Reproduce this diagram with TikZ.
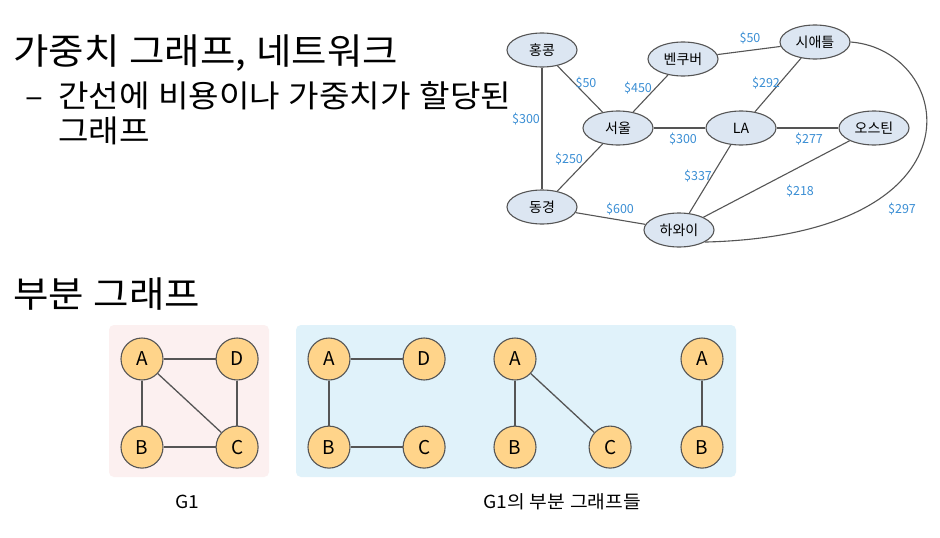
\documentclass[tikz,border=0pt]{standalone}
\usepackage{fontspec}
\setmainfont{Noto Sans CJK KR}[WordSpace=1.15]
\newfontfamily\widefont{Noto Sans CJK KR}[FakeStretch=1.07,WordSpace=1.15]
\usepackage{tikz}
\usetikzlibrary{positioning}
\usetikzlibrary{shapes.geometric}
\definecolor{costblue}{HTML}{3A8ED4}
\definecolor{cityfill}{HTML}{DCE6F2}
\definecolor{edgegray}{HTML}{555555}
\definecolor{vertfill}{HTML}{FFD48A}
\definecolor{pinkbg}{HTML}{FCF0F0}
\definecolor{bluebg}{HTML}{E0F2FA}
\tikzstyle{city} = [ellipse,draw=edgegray,line width=1.1pt,fill=cityfill,minimum width=70pt,minimum height=34pt,inner sep=0pt,font=\fontsize{14}{16}\selectfont]
\tikzstyle{cost} = [text=costblue,inner sep=0pt,font=\fontsize{12.5}{14}\selectfont]
\tikzstyle{road} = [draw=edgegray,line width=1.1pt]
\tikzstyle{vert} = [circle,draw=edgegray,line width=1.1pt,fill=vertfill,minimum size=42pt,inner sep=0pt,font=\fontsize{19}{22}\selectfont]
\tikzstyle{link} = [draw=edgegray,line width=1.3pt]
\tikzstyle{heading} = [anchor=base west,inner sep=0pt,font=\widefont\fontsize{36}{42}\selectfont]
\tikzstyle{bullet} = [anchor=base west,inner sep=0pt,font=\widefont\fontsize{31}{36}\selectfont]
\tikzstyle{caption} = [inner sep=0pt,font=\widefont\fontsize{18}{21}\selectfont]

\begin{document}
\begin{tikzpicture}[x=1pt,y=-1pt]
				\useasboundingbox (0,0) rectangle (940,538);
				\fill[white] (0,0) rectangle (940,538);
				
				%Text
				\node[heading] (t1) at (13,64) {가중치 그래프, 네트워크};
				\node[bullet] (dash) at (25,107) {–};
				\node[bullet] (t2) at (58,107) {간선에 비용이나 가중치가 할당된};
				\node[bullet] (t3) at (58,142) {그래프};
				\node[heading] (t4) at (13,307) {부분 그래프};
				
				%Cities
				\node[city] (hk) at (542,50) {홍콩};
				\node[city] (van) at (683,59) {벤쿠버};
				\node[city] (sea) at (815,42) {시애틀};
				\node[city] (seoul) at (618,128) {서울};
				\node[city] (la) at (741,128) {LA};
				\node[city] (aus) at (874,128) {오스틴};
				\node[city] (tok) at (542,207) {동경};
				\node[city] (haw) at (679,230) {하와이};
				
				%Roads
				\draw[road] (hk) -- (seoul);
				\draw[road] (hk) -- (tok);
				\draw[road] (van) -- (seoul);
				\draw[road] (van) -- (sea);
				\draw[road] (sea) -- (la);
				\draw[road] (seoul) -- (la);
				\draw[road] (la) -- (aus);
				\draw[road] (seoul) -- (tok);
				\draw[road] (la) -- (haw);
				\draw[road] (aus) -- (haw);
				\draw[road] (tok) -- (haw);
				\draw[road] (sea.east) .. controls (955,50) and (990,235) .. (haw.-25);
				
				%Costs
				\node[cost] (c1) at (586,83) {\$50};
				\node[cost] (c2) at (526,119) {\$300};
				\node[cost] (c3) at (638,88) {\$450};
				\node[cost] (c4) at (750,38) {\$50};
				\node[cost] (c5) at (766,83) {\$292};
				\node[cost] (c6) at (683,139) {\$300};
				\node[cost] (c7) at (809,139) {\$277};
				\node[cost] (c8) at (569,159) {\$250};
				\node[cost] (c9) at (698,176) {\$337};
				\node[cost] (c10) at (800,191) {\$218};
				\node[cost] (c11) at (620,209) {\$600};
				\node[cost] (c12) at (902,209) {\$297};
				
				%Boxes
				\fill[pinkbg,rounded corners=5pt] (109,325) rectangle (269,477);
				\fill[bluebg,rounded corners=5pt] (296,325) rectangle (736,477);
				
				%G1
				\node[vert] (gA) at (142,359) {A};
				\node[vert,right=52pt of gA] (gD) {D};
				\node[vert,below=45pt of gA] (gB) {B};
				\node[vert,below=45pt of gD] (gC) {C};
				
				%Subgraph 1
				\node[vert] (sA) at (329,359) {A};
				\node[vert,right=52pt of sA] (sD) {D};
				\node[vert,below=45pt of sA] (sB) {B};
				\node[vert,below=45pt of sD] (sC) {C};
				
				%Subgraph 2
				\node[vert] (tA) at (515,359) {A};
				\node[vert,below=45pt of tA] (tB) {B};
				\node[vert,right=52pt of tB] (tC) {C};
				
				%Subgraph 3
				\node[vert] (uA) at (702,359) {A};
				\node[vert,below=45pt of uA] (uB) {B};
				
				%Lines
				\draw[link] (gA) -- (gD);
				\draw[link] (gA) -- (gB);
				\draw[link] (gA) -- (gC);
				\draw[link] (gD) -- (gC);
				\draw[link] (gB) -- (gC);
				
				\draw[link] (sA) -- (sD);
				\draw[link] (sA) -- (sB);
				\draw[link] (sB) -- (sC);
				
				\draw[link] (tA) -- (tB);
				\draw[link] (tA) -- (tC);
				
				\draw[link] (uA) -- (uB);
				
				%Captions
				\node[caption] (cap1) at (187,502) {G1};
				\node[caption] (cap2) at (562,502) {G1의 부분 그래프들};
			\end{tikzpicture}
\end{document}
